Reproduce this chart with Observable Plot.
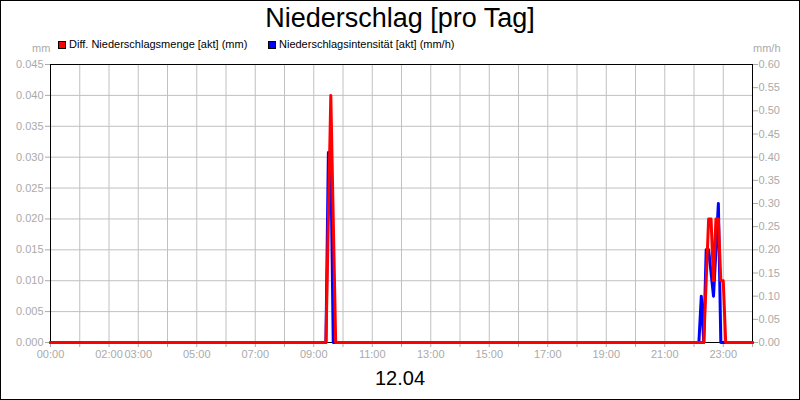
<!DOCTYPE html>
<html>
<head>
<meta charset="utf-8">
<script src="https://cdn.jsdelivr.net/npm/d3@7"></script>
<script src="https://cdn.jsdelivr.net/npm/@observablehq/plot@0.6"></script>
<style>
  html, body { margin: 0; padding: 0; background: #fff; }
  #wrap { position: relative; width: 800px; height: 400px; overflow: hidden; font-family: 'Liberation Sans', Arial, sans-serif; }
  #wrap svg { position: absolute; left: 0; top: 0; }
  .border { position: absolute; left: 0; top: 0; width: 800px; height: 400px; box-sizing: border-box; border: 1px solid #000; pointer-events: none; }
  .title { position: absolute; left: 0; top: 3px; width: 800px; text-align: center; font-size: 27px; color: #000; line-height: 30px; }
  .caption { position: absolute; left: 0; top: 366px; width: 800px; text-align: center; font-size: 20px; color: #000; line-height: 24px; }
  .leg { position: absolute; top: 37px; font-size: 11px; line-height: 14px; color: #000; white-space: nowrap; }
  .sw { position: absolute; top: 41px; width: 8px; height: 8px; box-sizing: border-box; border: 1px solid #000; }
  .unit { position: absolute; top: 42px; font-size: 11px; color: #aaa; line-height: 12px; }
</style>
</head>
<body>
<div id="wrap">
  <div class="title">Niederschlag [pro Tag]</div>
  <div class="sw" style="left:58px;background:#ff0000"></div>
  <div class="leg" style="left:69px">Diff. Niederschlagsmenge [akt] (mm)</div>
  <div class="sw" style="left:268px;background:#0000ff"></div>
  <div class="leg" style="left:279px">Niederschlagsintensität [akt] (mm/h)</div>
  <div class="unit" style="left:32px">mm</div>
  <div class="unit" style="left:753px">mm/h</div>
  <div class="caption">12.04</div>
  <div class="border"></div>
</div>
<script>
// Red series: Diff. Niederschlagsmenge [akt] (mm) — left axis
const timesMm = ["00:00","09:25","09:35","09:45","22:20","22:30","22:35","22:40","22:45","22:50","22:55","23:00","23:05","24:00"];
const valuesMm = [0, 0, 0.040, 0, 0, 0.020, 0.020, 0.010, 0.020, 0.020, 0.010, 0.010, 0, 0];

// Blue series: Niederschlagsintensität [akt] (mm/h) — right axis
const timesMmh = ["00:00","09:25","09:30","09:35","09:40","22:10","22:15","22:20","22:25","22:30","22:40","22:50","22:55","24:00"];
const valuesMmh = [0, 0, 0.41, 0.40, 0, 0, 0.10, 0, 0.20, 0.20, 0.10, 0.30, 0, 0];

// Axis ticks
const leftTicks = [0, 0.005, 0.010, 0.015, 0.020, 0.025, 0.030, 0.035, 0.040, 0.045];
const rightTicks = [0, 0.05, 0.10, 0.15, 0.20, 0.25, 0.30, 0.35, 0.40, 0.45, 0.50, 0.55, 0.60];
const hourTicks = d3.range(0, 25);
const xLabelHours = [0, 2, 3, 5, 7, 9, 11, 13, 15, 17, 19, 21, 23];

const toHours = s => { const [h, m] = s.split(":").map(Number); return h + m / 60; };
const k = 0.045 / 0.60; // right axis -> left axis scale

const red = timesMm.map((t, i) => ({t: toHours(t), v: valuesMm[i]}));
const blue = timesMmh.map((t, i) => ({t: toHours(t), v: valuesMmh[i] * k}));
const fmtHour = h => xLabelHours.includes(h) ? String(h).padStart(2, "0") + ":00" : "";

const chart = Plot.plot({
  width: 800,
  height: 400,
  marginLeft: 50,
  marginRight: 48,
  marginTop: 64,
  marginBottom: 58,
  style: {fontFamily: "'Liberation Sans', Arial, sans-serif", fontSize: "11px", color: "#aaa", background: "transparent", overflow: "visible"},
  x: {domain: [0, 24]},
  y: {domain: [0, 0.045]},
  marks: [
    Plot.gridX(hourTicks, {stroke: "#c0c0c0", strokeOpacity: 1}),
    Plot.gridY(leftTicks, {stroke: "#c0c0c0", strokeOpacity: 1}),
    Plot.axisX(hourTicks, {tickFormat: fmtHour, tickSize: 5, tickPadding: 3, label: null}),
    Plot.axisY(leftTicks, {anchor: "left", tickFormat: d => d.toFixed(3), tickSize: 5, tickPadding: 2, label: null}),
    Plot.axisY(rightTicks.map(v => v * k), {anchor: "right", tickFormat: d => (d / k).toFixed(2), tickSize: 5, tickPadding: 1, label: null}),
    Plot.frame({stroke: "#000"}),
    Plot.line(blue, {x: "t", y: "v", stroke: "#0000ff", strokeWidth: 3}),
    Plot.line(red, {x: "t", y: "v", stroke: "#ff0000", strokeWidth: 3})
  ]
});
document.getElementById("wrap").insertBefore(chart, document.getElementById("wrap").firstChild);
</script>
</body>
</html>
